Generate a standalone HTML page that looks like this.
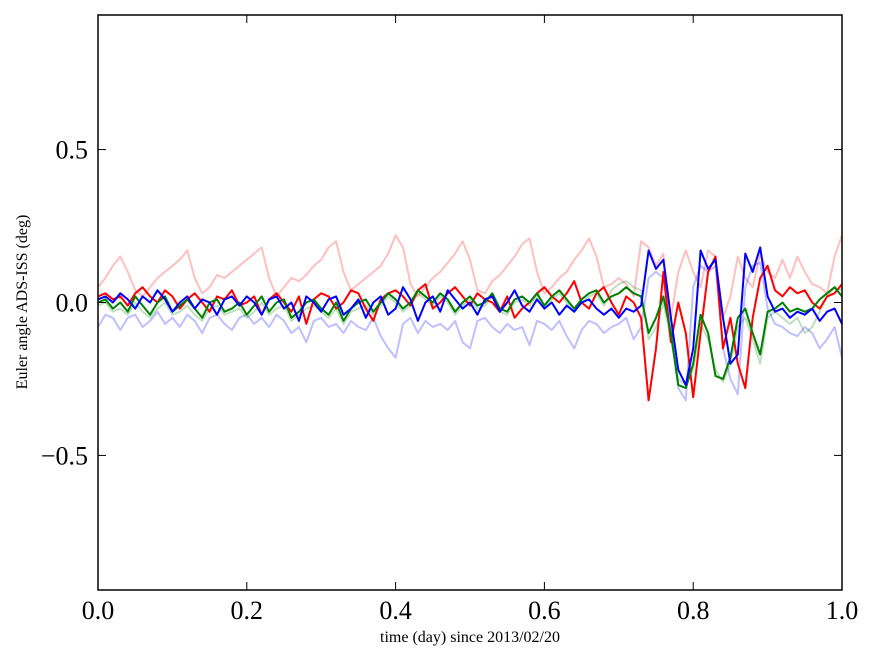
<!DOCTYPE html>
<html><head><meta charset="utf-8">
<style>
html,body{margin:0;padding:0;background:#fff;width:875px;height:662px;overflow:hidden}
svg text{font-family:"Liberation Serif",serif}
</style></head>
<body>
<svg id="chart" width="875" height="662" viewBox="0 0 875 662" xmlns="http://www.w3.org/2000/svg">
<g id="series"></g>
<rect x="98" y="15" width="744" height="575" fill="none" stroke="#000" stroke-width="1.5"/>
<g id="ticks"></g>
<text x="470" y="642" font-size="16" text-anchor="middle">time (day) since 2013/02/20</text>
<text transform="translate(27,302) rotate(-90)" font-size="16" text-anchor="middle">Euler angle ADS-ISS (deg)</text>
</svg>
<script>
const xTicks=[0,0.2,0.4,0.6,0.8,1.0];
const xTickLabels=["0.0","0.2","0.4","0.6","0.8","1.0"];
const yTicks=[0.5,0,-0.5];
const yTickLabels=["0.5","0.0","\u22120.5"];
const lightRed=[0.05,0.08,0.12,0.15,0.10,0.04,0.02,0.05,0.08,0.10,0.12,0.14,0.17,0.08,0.03,0.05,0.09,0.08,0.10,0.12,0.14,0.16,0.18,0.08,0.02,0.05,0.08,0.07,0.09,0.12,0.14,0.18,0.20,0.10,0.04,0.06,0.08,0.10,0.12,0.16,0.22,0.18,0.06,0.02,0.05,0.08,0.10,0.13,0.16,0.20,0.14,0.04,0.03,0.07,0.09,0.12,0.15,0.19,0.21,0.10,0.03,0.05,0.08,0.10,0.14,0.17,0.21,0.15,0.05,0.06,0.08,0.06,0.02,0.20,0.18,0.12,0.16,-0.05,0.10,0.17,0.10,0.05,0.17,0.15,-0.05,0.02,0.15,0.08,0.05,0.16,0.10,0.08,0.14,0.08,0.15,0.10,0.06,0.05,0.03,0.15,0.22];
const lightGreen=[-0.01,0.00,-0.03,-0.02,-0.04,0.00,-0.03,-0.05,-0.02,0.00,-0.04,-0.03,-0.01,-0.04,-0.06,-0.02,-0.01,-0.04,-0.03,-0.02,-0.05,-0.03,0.00,-0.04,-0.02,-0.01,-0.06,-0.04,-0.02,-0.01,-0.03,-0.05,-0.02,-0.07,-0.03,-0.02,-0.01,-0.04,-0.01,0.02,0.00,-0.03,-0.01,0.03,0.01,-0.01,0.02,0.00,-0.04,-0.01,0.01,-0.02,-0.01,0.02,-0.03,-0.04,0.00,0.01,-0.01,0.02,-0.02,0.01,0.03,0.00,-0.03,0.00,0.02,0.03,-0.01,0.04,0.06,0.07,0.05,0.04,-0.12,-0.08,0.00,-0.12,-0.25,-0.27,-0.22,-0.07,-0.12,-0.22,-0.26,-0.20,-0.08,-0.05,-0.12,-0.20,-0.05,-0.03,-0.05,-0.07,-0.05,-0.10,-0.08,-0.03,0.02,0.05,0.04];
const lightBlue=[-0.08,-0.04,-0.05,-0.09,-0.05,-0.04,-0.08,-0.06,-0.03,-0.07,-0.05,-0.08,-0.04,-0.06,-0.10,-0.05,-0.04,-0.07,-0.09,-0.05,-0.04,-0.07,-0.05,-0.08,-0.04,-0.06,-0.10,-0.08,-0.13,-0.06,-0.05,-0.08,-0.07,-0.10,-0.06,-0.08,-0.09,-0.05,-0.11,-0.15,-0.18,-0.07,-0.05,-0.10,-0.06,-0.08,-0.07,-0.09,-0.06,-0.13,-0.15,-0.06,-0.05,-0.08,-0.10,-0.07,-0.09,-0.08,-0.14,-0.06,-0.07,-0.09,-0.06,-0.11,-0.15,-0.09,-0.06,-0.07,-0.10,-0.08,-0.07,-0.05,-0.12,-0.08,0.08,0.10,0.08,-0.10,-0.28,-0.32,0.05,0.12,0.10,0.12,-0.15,-0.25,-0.30,0.05,0.12,0.13,-0.02,-0.07,-0.08,-0.10,-0.11,-0.08,-0.10,-0.15,-0.12,-0.08,-0.18];
const redSeries=[0.02,0.03,0.01,0.02,-0.01,0.03,0.05,0.02,0.00,0.04,0.02,-0.02,0.01,0.03,0.00,-0.03,0.02,0.01,0.04,-0.01,0.00,0.02,-0.04,0.01,0.03,0.00,-0.03,0.02,-0.07,0.01,0.03,0.02,-0.02,0.00,0.04,0.03,-0.02,-0.06,0.01,0.03,0.04,0.02,-0.01,0.04,0.06,-0.02,0.00,0.03,0.05,0.02,-0.01,0.03,0.01,0.00,-0.03,0.02,-0.05,-0.02,0.00,0.03,0.05,0.02,0.00,0.03,0.07,0.00,-0.02,0.03,0.05,0.00,-0.04,0.02,0.00,-0.05,-0.32,-0.15,0.10,-0.13,0.00,-0.10,-0.31,-0.10,0.10,0.15,-0.15,-0.05,-0.20,-0.28,-0.05,0.08,0.12,0.04,0.02,0.05,0.03,0.04,0.00,-0.02,0.02,0.03,0.06];
const greenSeries=[0.00,0.01,-0.02,0.00,-0.03,0.02,-0.01,-0.04,0.00,0.02,-0.03,-0.01,0.01,-0.02,-0.05,0.00,0.01,-0.03,-0.02,0.00,-0.04,-0.01,0.02,-0.03,0.00,0.01,-0.05,-0.03,0.00,0.01,-0.02,-0.04,0.00,-0.06,-0.02,0.00,0.01,-0.03,0.00,0.03,0.01,-0.02,0.00,0.04,0.02,0.00,0.03,0.01,-0.03,0.00,0.02,-0.01,0.00,0.03,-0.02,-0.03,0.01,0.02,0.00,0.03,-0.01,0.02,0.04,0.01,-0.02,0.01,0.03,0.04,0.00,0.02,0.03,0.05,0.03,0.02,-0.10,-0.05,0.02,-0.10,-0.27,-0.28,-0.20,-0.04,-0.10,-0.24,-0.25,-0.18,-0.05,-0.02,-0.10,-0.17,-0.03,-0.02,0.00,-0.03,-0.02,-0.03,-0.02,0.01,0.03,0.05,0.02];
const blueSeries=[0.01,0.02,0.00,0.03,0.01,-0.02,0.02,0.00,0.04,0.01,-0.03,0.00,0.02,-0.02,0.01,0.00,-0.04,0.01,0.02,-0.01,0.02,0.00,-0.04,0.01,0.02,-0.02,0.00,-0.06,0.02,0.00,-0.03,0.01,0.02,-0.04,-0.02,0.01,-0.05,0.00,0.02,-0.04,-0.02,0.05,0.01,-0.06,0.00,0.02,-0.03,0.04,0.01,-0.02,0.00,-0.04,0.01,0.02,-0.03,0.00,0.04,-0.01,-0.03,0.01,-0.02,0.00,-0.04,-0.01,-0.03,0.00,0.01,-0.02,-0.04,-0.02,-0.05,-0.02,-0.03,-0.01,0.17,0.11,0.14,-0.05,-0.22,-0.27,-0.15,0.17,0.11,0.14,-0.05,-0.20,-0.17,0.16,0.10,0.18,0.02,-0.03,-0.02,-0.05,-0.03,-0.04,-0.02,-0.06,-0.03,-0.02,-0.07];

const NS="http://www.w3.org/2000/svg";
const X0=98,X1=842,Y0=15,Y1=590,YMIN=-0.94,YMAX=0.94;
function xs(v){return X0+(v-0)/(1-0)*(X1-X0);}
function ys(v){return Y1-(v-YMIN)/(YMAX-YMIN)*(Y1-Y0);}
const sg=document.getElementById('series');
function drawLine(arr,color,op,name){
  const p=document.createElementNS(NS,'polyline');
  
  
  p.setAttribute('points',arr.map((v,i)=>xs(i/(arr.length-1)).toFixed(1)+','+ys(v).toFixed(1)).join(' '));
  p.setAttribute('fill','none');p.setAttribute('stroke',color);p.setAttribute('stroke-opacity',op);
  p.setAttribute('stroke-width','2');p.setAttribute('stroke-linejoin','round');
  sg.appendChild(p);
}
drawLine(lightRed,'#ff0000',0.25,'light-red-series');
drawLine(lightGreen,'#008000',0.25,'light-green-series');
drawLine(lightBlue,'#0000ff',0.25,'light-blue-series');
drawLine(redSeries,'#ff0000',1,'red-series');
drawLine(greenSeries,'#008000',1,'green-series');
drawLine(blueSeries,'#0000ff',1,'blue-series');
const tg=document.getElementById('ticks');
function ln(x1,y1,x2,y2,name){const l=document.createElementNS(NS,'line');
  
  
  l.setAttribute('x1',x1);l.setAttribute('y1',y1);l.setAttribute('x2',x2);l.setAttribute('y2',y2);l.setAttribute('stroke','#000');l.setAttribute('stroke-width','1');tg.appendChild(l);}
function tx(x,y,s,anchor,name){const t=document.createElementNS(NS,'text');
  
  
  t.setAttribute('x',x);t.setAttribute('y',y);t.setAttribute('font-size','26');t.setAttribute('text-anchor',anchor);t.textContent=s;tg.appendChild(t);}
xTicks.forEach((v,i)=>{const x=xs(v);ln(x,Y1,x,Y1-8,'x-tick');ln(x,Y0,x,Y0+8,'x-tick-top');tx(x,619,xTickLabels[i],'middle','x-tick-label');});
yTicks.forEach((v,i)=>{const y=ys(v);ln(X0,y,X0+8,y,'y-tick');ln(X1,y,X1-8,y,'y-tick-right');tx(88,y+9,yTickLabels[i],'end','y-tick-label');});
</script>
</body></html>
